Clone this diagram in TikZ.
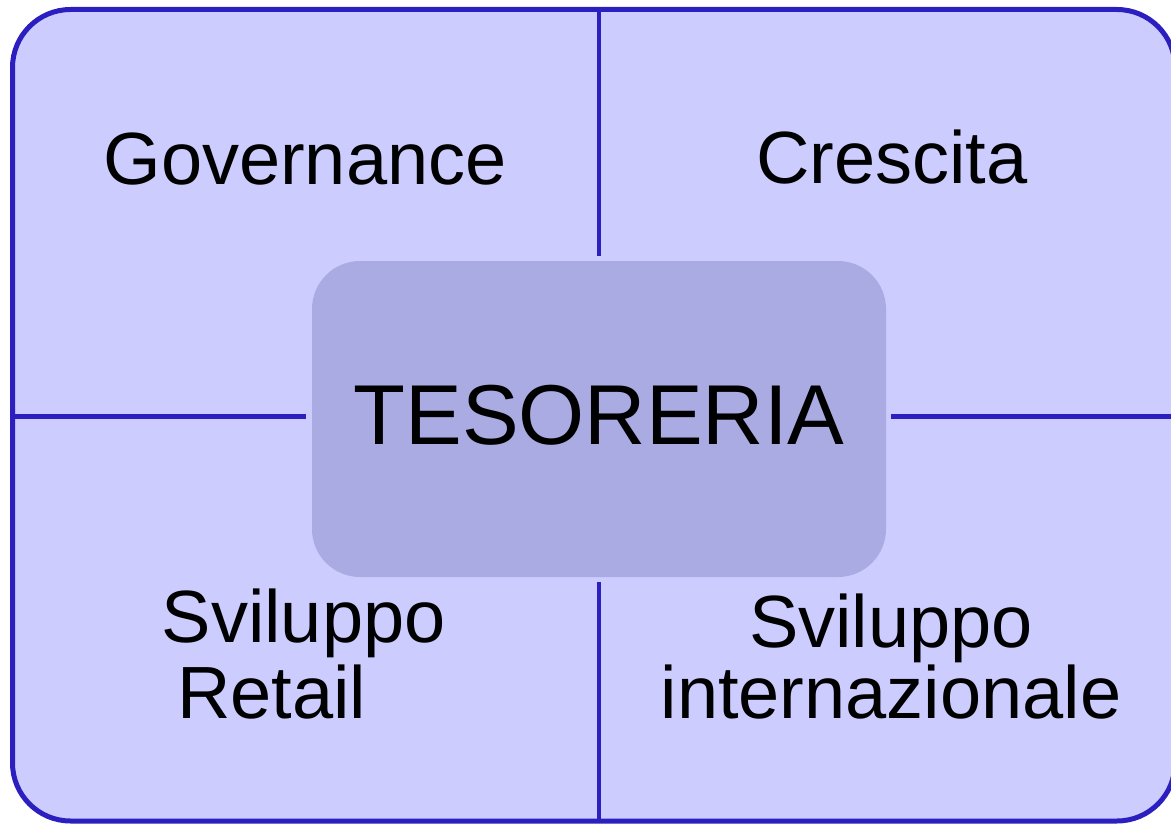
\documentclass[tikz,border=0pt]{standalone}
\usepackage{fontspec}
\setmainfont{Liberation Sans}
\definecolor{framefill}{HTML}{CCCCFF}
\definecolor{framedraw}{HTML}{2B1FBF}
\definecolor{boxfill}{HTML}{ABABE3}
\begin{document}
\begin{tikzpicture}[x=1pt,y=-1pt,
  framebox/.style={draw=framedraw, fill=framefill, line width=5pt, rounded corners=58pt, inner sep=0pt, outer sep=0pt},
  centerbox/.style={fill=boxfill, draw=none, rounded corners=48pt, inner sep=0pt, outer sep=0pt, font=\fontsize{85}{90}\selectfont, text height=62pt, text depth=12pt},
  sep/.style={draw=framedraw, line width=4.5pt},
  lbl/.style={font=\fontsize{74}{76}\selectfont, inner sep=0pt, anchor=base}
]
\useasboundingbox (0,0) rectangle (1171,824);
\node[framebox, minimum width=1162.5pt, minimum height=811.5pt] (frame) at (593.75,415.25) {};
\node[centerbox, minimum width=574pt, minimum height=316pt] (tes) at (599,419) {TESORERIA};
\draw[sep, shorten >=5pt] (tes.north |- frame.north) -- (tes.north);
\draw[sep, shorten >=5pt] (tes.south |- frame.south) -- (tes.south);
\draw[sep, shorten >=6pt] ([yshift=2.5pt]tes.west -| frame.west) -- ([yshift=2.5pt]tes.west);
\draw[sep, shorten >=5pt] ([yshift=2.5pt]tes.east -| frame.east) -- ([yshift=2.5pt]tes.east);
\node[lbl] (gov) at (305,185) {Governance};
\node[lbl] (cre) at (892,184) {Crescita};
\node[lbl, anchor=base west, align=left, font=\fontsize{74}{76}\selectfont] (svr) at (161.5,718) {Sviluppo\\\hspace*{15.5pt}Retail};
\node[lbl, align=center, font=\fontsize{74}{71}\selectfont] (svi) at (891,718) {Sviluppo\\internazionale};
\end{tikzpicture}
\end{document}
